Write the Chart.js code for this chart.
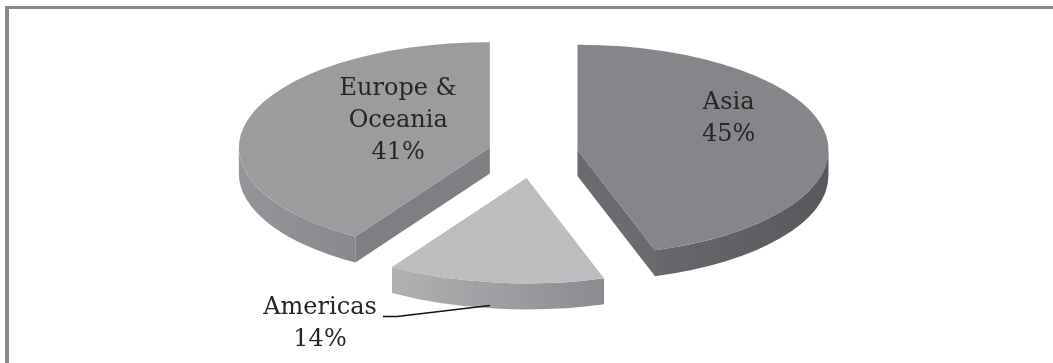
<!DOCTYPE html>
<html>
<head>
<meta charset="utf-8">
<script src="https://cdn.jsdelivr.net/npm/chart.js@4.4.1/dist/chart.umd.min.js"></script>
<style>
  html, body { margin: 0; padding: 0; background: #fff; }
  #quadro { position: relative; width: 1053px; height: 363px; overflow: hidden; }
  #moldura { position: absolute; left: 5px; top: 6px; right: -10px; bottom: -10px;
             border-top: 3px solid #8a8a8a; border-left: 4px solid #8a8a8a; }
  canvas { position: absolute; left: 0; top: 0; }
</style>
</head>
<body>
<div id="quadro">
  <div id="moldura"></div>
  <canvas id="grafico" width="1053" height="363"></canvas>
</div>
<script>
const regioes = ['Asia', 'Americas', 'Europe & Oceania'];
const rotulos = [['Asia', '45%'], ['Americas', '14%'], ['Europe &', 'Oceania', '41%']];
const percentuais = [45, 14, 41];

// cores: topo, parede externa (esq -> dir) e corte radial
const coresTopo = ['#858689', '#bcbdbf', '#9b9c9e'];
const coresParede = [['#67686b', '#58595c'], ['#b0b1b3', '#8b8c8f'], ['#949598', '#88898c']];
const coresCorte = ['#6a6b6e', '#a0a1a3', '#7e7f82'];
const afastamento = [44, 60, 46];

// posição dos textos internos: fração do raio + ajuste
const posTexto = [[0.61, 0, -21], null, [0.38, 0, -16]];

const INCL = 0.42, PROF = 26, CX = 534, CY = 153;

const pizza3d = {
  id: 'pizza3d',
  beforeDatasetsDraw(chart) {
    const ctx = chart.ctx;
    const dpr = chart.currentDevicePixelRatio;
    const arcos = chart.getDatasetMeta(0).data;
    const ident = () => ctx.setTransform(dpr, 0, 0, dpr, 0, 0);

    // de trás pra frente
    [2, 0, 1].forEach(i => {
      const a = arcos[i];
      const r = a.outerRadius;
      const meio = (a.startAngle + a.endAngle) / 2;
      const ex = Math.cos(meio) * afastamento[i];
      const ey = Math.sin(meio) * afastamento[i];
      const plano = (d) => ctx.setTransform(dpr, 0, 0, dpr * INCL,
        dpr * (CX - a.x + ex), dpr * (CY + d + (ey - a.y) * INCL));

      // parede externa (só a metade da frente aparece)
      const v0 = Math.max(a.startAngle, 0), v1 = Math.min(a.endAngle, Math.PI);
      if (v1 > v0) {
        ctx.beginPath();
        plano(0); ctx.arc(a.x, a.y, r, v0, v1);
        plano(PROF); ctx.arc(a.x, a.y, r, v1, v0, true);
        ctx.closePath();
        ident();
        const xe = CX + ex + r * Math.cos(v1), xd = CX + ex + r * Math.cos(v0);
        const g = ctx.createLinearGradient(xe, 0, xd, 0);
        g.addColorStop(0, coresParede[i][0]);
        g.addColorStop(1, coresParede[i][1]);
        ctx.fillStyle = g;
        ctx.fill();
      }

      // cortes radiais virados pra frente
      const corte = (ang) => {
        const px = a.x + r * Math.cos(ang), py = a.y + r * Math.sin(ang);
        ctx.beginPath();
        plano(0); ctx.moveTo(a.x, a.y); ctx.lineTo(px, py);
        plano(PROF); ctx.lineTo(px, py); ctx.lineTo(a.x, a.y);
        ctx.closePath();
        ident();
        ctx.fillStyle = coresCorte[i];
        ctx.fill();
      };
      if (Math.cos(a.startAngle) < -1e-6) corte(a.startAngle);
      if (Math.cos(a.endAngle) > 1e-6) corte(a.endAngle);

      plano(0);
      a.draw(ctx);
      ident();
    });

    // textos
    ctx.save();
    ctx.font = '24px "DejaVu Serif"';
    ctx.fillStyle = '#262626';
    ctx.textAlign = 'center';
    ctx.textBaseline = 'middle';
    const LH = 32;
    arcos.forEach((a, i) => {
      const r = a.outerRadius;
      const meio = (a.startAngle + a.endAngle) / 2;
      const ex = Math.cos(meio) * afastamento[i];
      const ey = Math.sin(meio) * afastamento[i];
      const linhas = rotulos[i];
      if (posTexto[i]) {
        const [f, nx, ny] = posTexto[i];
        const x = CX + ex + f * r * Math.cos(meio) + nx;
        const y = CY + INCL * (ey + f * r * Math.sin(meio)) + ny;
        linhas.forEach((t, j) => ctx.fillText(t, x, y + (j - (linhas.length - 1) / 2) * LH));
      } else {
        // rótulo de fora com linha de chamada
        const fx = CX + ex + r * Math.cos(meio) - 5;
        const fy = CY + PROF + INCL * (ey + r * Math.sin(meio)) - 3;
        ctx.strokeStyle = '#111';
        ctx.lineWidth = 1.5;
        ctx.beginPath();
        ctx.moveTo(fx, fy);
        ctx.lineTo(fx - 93, fy + 11);
        ctx.lineTo(fx - 107, fy + 11);
        ctx.stroke();
        linhas.forEach((t, j) => ctx.fillText(t, fx - 170, fy + 2 + j * LH));
      }
    });
    ctx.restore();
    return false;
  }
};

new Chart(document.getElementById('grafico'), {
  type: 'pie',
  data: {
    labels: regioes,
    datasets: [{
      data: percentuais,
      backgroundColor: coresTopo,
      borderWidth: 0
    }]
  },
  options: {
    responsive: false,
    animation: false,
    events: [],
    radius: 251,
    plugins: {
      legend: { display: false },
      tooltip: { enabled: false }
    }
  },
  plugins: [pizza3d]
});
</script>
</body>
</html>
